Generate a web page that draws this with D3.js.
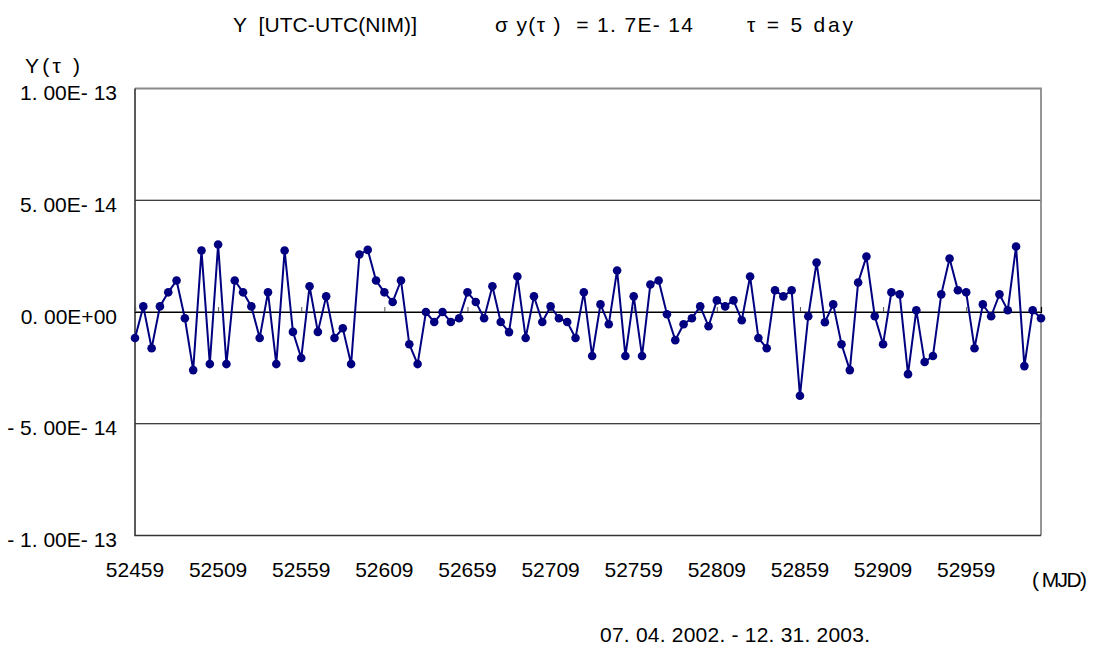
<!DOCTYPE html>
<html>
<head>
<meta charset="utf-8">
<script src="https://cdn.jsdelivr.net/npm/d3@7"></script>
<style>
  body { margin: 0; background: #fff; }
  text { font-family: "Liberation Sans", Arial, sans-serif; font-size: 21px; fill: #000; white-space: pre; }
</style>
</head>
<body>
<script>
// MJD, every 5 days from 52459 (07.04.2002) to 53004 (12.31.2003)
const startMjd = 52459, stepDays = 5;
// Y(tau) values in units of 1E-14
const yValues = [
  -1.16, 0.25, -1.62, 0.25, 0.88, 1.41, -0.28, -2.6, 2.75, -2.33,
  3.02, -2.33, 1.41, 0.88, 0.25, -1.16, 0.88, -2.33, 2.75, -0.89,
  -2.06, 1.15, -0.89, 0.70, -1.16, -0.73, -2.33, 2.57, 2.78, 1.41,
  0.88, 0.45, 1.41, -1.44, -2.33, 0, -0.45, 0, -0.45, -0.28,
  0.88, 0.45, -0.28, 1.15, -0.45, -0.9, 1.59, -1.16, 0.70, -0.45,
  0.25, -0.28, -0.45, -1.16, 0.88, -1.97, 0.34, -0.55, 1.86, -1.97,
  0.70, -1.97, 1.23, 1.41, -0.10, -1.26, -0.55, -0.28, 0.25, -0.64,
  0.52, 0.25, 0.52, -0.37, 1.59, -1.16, -1.62, 0.97, 0.70, 0.97,
  -3.75, -0.19, 2.21, -0.46, 0.34, -1.44, -2.6, 1.32, 2.48, -0.19,
  -1.44, 0.88, 0.79, -2.78, 0.08, -2.24, -1.97, 0.79, 2.39, 0.97,
  0.88, -1.62, 0.34, -0.19, 0.79, 0.08, 2.93, -2.42, 0.08, -0.28
];
const mjd = yValues.map((_, i) => startMjd + i * stepDays);
const yTicks = [1e-13, 5e-14, 0, -5e-14, -1e-13];
const yTickLabels = ['1. 00E- 13', '5. 00E- 14', '0. 00E+00', '- 5. 00E- 14', '- 1. 00E- 13'];
const xTickMjd = d3.range(52459, 53000, 50);

const w = 1094, h = 646;
const pLeft = 135, pRight = 1041, pTop = 88.5, pBottom = 535.5;

const svg = d3.select('body').append('svg')
  .attr('width', w)
  .attr('height', h);

const x = d3.scaleLinear()
  .domain([mjd[0], mjd[mjd.length - 1]])
  .range([pLeft, pRight]);

const y = d3.scaleLinear()
  .domain([-1e-13, 1e-13])
  .range([pBottom, pTop]);

// gridlines
svg.append('g')
  .selectAll('line')
  .data(yTicks.filter(d => Math.abs(d) < 1e-13))
  .enter()
  .append('line')
  .attr('x1', pLeft).attr('x2', pRight)
  .attr('y1', d => y(d)).attr('y2', d => y(d))
  .attr('stroke', '#000')
  .attr('stroke-width', 1);

// plot area frame
svg.append('path')
  .attr('d', `M${pLeft},${pTop}H${pRight}V${pBottom}`)
  .attr('fill', 'none')
  .attr('stroke', '#8a8a8a')
  .attr('stroke-width', 1.8);
svg.append('path')
  .attr('d', `M${pLeft},${pTop}V${pBottom}H${pRight}`)
  .attr('fill', 'none')
  .attr('stroke', '#333')
  .attr('stroke-width', 1.6);

// category axis on the zero line, ticks pointing up
const xAxis = d3.axisTop(x)
  .tickValues(xTickMjd)
  .tickSize(5)
  .tickFormat('');
const gx = svg.append('g')
  .attr('transform', `translate(0, ${y(0)})`)
  .call(xAxis);
gx.select('.domain').attr('stroke', '#000').attr('stroke-width', 1.2);
gx.selectAll('.tick line').attr('stroke', '#555');

// x tick labels at bottom
svg.append('g')
  .selectAll('text')
  .data(xTickMjd)
  .enter()
  .append('text')
  .attr('x', d => x(d))
  .attr('y', 577)
  .attr('text-anchor', 'middle')
  .text(d => d);

// y tick labels
svg.append('g')
  .selectAll('text')
  .data(yTicks)
  .enter()
  .append('text')
  .attr('x', 117)
  .attr('y', d => y(d) + 11.5)
  .attr('text-anchor', 'end')
  .text((d, i) => yTickLabels[i]);

// series
const line = d3.line()
  .x((d, i) => x(mjd[i]))
  .y(d => y(d * 1e-14));

svg.append('path')
  .datum(yValues)
  .attr('d', line)
  .attr('fill', 'none')
  .attr('stroke', '#000080')
  .attr('stroke-width', 2);

svg.append('g')
  .selectAll('circle')
  .data(yValues)
  .enter()
  .append('circle')
  .attr('cx', (d, i) => x(mjd[i]))
  .attr('cy', d => y(d * 1e-14))
  .attr('r', 4.3)
  .attr('fill', '#000080');

// titles and labels
const label = (tx, ty, str, len) => {
  const t = svg.append('text').attr('x', tx).attr('y', ty).text(str);
  if (len) t.attr('textLength', len).attr('lengthAdjust', 'spacing');
  return t;
};
label(233, 32, 'Y  [UTC-UTC(NIM)]', 184);
label(495, 32, 'σ y(τ )  = 1. 7E- 14', 198);
label(747, 32, 'τ = 5 day', 106);
label(25, 72.5, 'Y(τ )', 55);
label(1032, 587, '( MJD)', 55);
label(600, 641.5, '07. 04. 2002. - 12. 31. 2003.', 270);
</script>
</body>
</html>
